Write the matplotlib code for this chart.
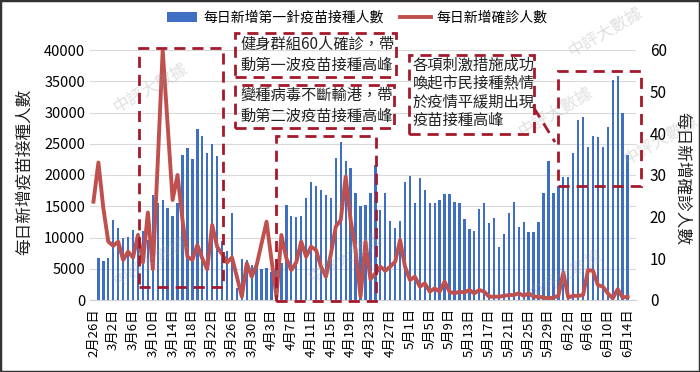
import numpy as np
import pandas as pd
import matplotlib.pyplot as plt
from matplotlib.patches import Rectangle, Patch
from matplotlib.lines import Line2D

plt.rcParams['font.family'] = ['Noto Sans CJK TC', 'DejaVu Sans']

# daily first-dose vaccinations, 2/26 - 6/14
vaccinations = [
    0, 6800, 6300, 6800, 12800, 11600, 10000, 10100, 11200, 10700,
    11100, 9600, 16800, 15500, 16000, 14800, 13500, 15500, 23200, 24400,
    22600, 27400, 26200, 23500, 25000, 23100, 9500, 7900, 13900, 2000,
    6500, 6400, 5600, 5400, 4900, 5200, 4500, 5000, 6000, 15200,
    13400, 13300, 13400, 16400, 18900, 18200, 17600, 16800, 16400, 22700,
    25300, 22300, 21100, 17200, 15100, 15200, 17100, 21600, 14400, 17100,
    12700, 11500, 12600, 18900, 19800, 15600, 19500, 17600, 15500, 15600,
    16000, 16900, 17000, 15700, 15500, 13000, 11400, 11000, 14500, 15600,
    12300, 13100, 8500, 10600, 13870, 15630, 11730, 12530, 10930, 10930,
    12530, 17070, 22290, 17070, 18240, 19730, 19630, 23470, 28800, 29230,
    24430, 26240, 26130, 24430, 27730, 35200, 35840, 29970, 23200,
]

# daily confirmed cases
cases = [
    23.6, 33, 22, 14, 13, 14, 9.6, 11.6, 10.2, 15.6,
    9, 21, 7.4, 33, 60, 42, 24, 30, 19.2, 10.4,
    9.6, 13.2, 10, 7.4, 18, 12.8, 11, 9, 10.2, 5.6,
    0.8, 8.8, 5.6, 8.4, 13.6, 18.8, 9.6, 0.8, 15.6, 10,
    7.2, 9, 14, 10.4, 12.8, 12, 8, 5.6, 11, 17.6,
    19.2, 29.6, 19.2, 12, 0.8, 14, 5, 6.4, 8, 7,
    8, 9.2, 14.4, 8, 4.8, 5.6, 3.2, 4, 2, 2.8,
    2, 4.4, 2, 1.6, 2, 1.8, 2.4, 1.6, 2.4, 2,
    0.8, 0.8, 0.8, 1, 1.2, 1.2, 1.6, 1, 1.6, 0.8,
    0.8, 0.6, 0.4, 0.6, 1, 6.6, 0.6, 1, 1, 1.2,
    7.2, 7, 3.6, 3.2, 1.6, 0.4, 2.6, 0.6, 0.8,
]

dates = pd.date_range('2021-02-26', '2021-06-14')
date_labels = [f"{d.month}月{d.day}日" for d in dates]

legend_labels = ['每日新增第一針疫苗接種人數', '每日新增確診人數']
note1 = '健身群組60人確診，帶\n動第一波疫苗接種高峰'
note2 = '變種病毒不斷輸港，帶\n動第二波疫苗接種高峰'
note3 = '各項刺激措施成功\n喚起市民接種熱情\n於疫情平緩期出現\n疫苗接種高峰'

W, H = 700, 372
def fx(px):
    return px / W
def fy(py):
    return 1 - py / H

fig = plt.figure(figsize=(7, 3.72), dpi=100)
ax = fig.add_axes([fx(90), fy(300), (636 - 90) / W, (300 - 50) / H])

x = np.arange(len(vaccinations))
ax.bar(x, vaccinations, width=0.48, color='#3f6fc2', zorder=2)
ax.set_ylim(0, 40000)
ax.set_yticks(range(0, 40001, 5000))
ax.set_xlim(-0.7, 109.7)
ax.set_xticks(x[::4])
ax.set_xticklabels(date_labels[::4], rotation=90)
ax.grid(axis='y', color='#d9d9d9', lw=0.8)
ax.set_axisbelow(True)
ax.tick_params(axis='both', length=0, labelsize=10.5)
ax.tick_params(axis='x', labelsize=9.5, pad=6)
for s in ['top', 'right', 'left']:
    ax.spines[s].set_visible(False)
ax.spines['bottom'].set_color('#d0d0d0')

ax2 = ax.twinx()
ax2.plot(x, cases, color='#c0504d', lw=2.8, zorder=3, solid_joinstyle='round')
ax2.set_ylim(0, 60)
ax2.set_yticks(range(0, 61, 10))
ax2.tick_params(axis='y', length=0, labelsize=11, pad=10)
for s in ax2.spines.values():
    s.set_visible(False)

fig.text(fx(25), fy(172), '每日新增疫苗接種人數', rotation=90, fontsize=12,
         ha='center', va='center', color='#222')
fig.text(fx(682), fy(178), '每日新增確診人數', rotation=270, fontsize=12,
         ha='center', va='center', color='#222')

handles = [Patch(facecolor='#3f6fc2'), Line2D([], [], color='#c0504d', lw=2.8)]
fig.legend(handles, legend_labels, loc='center', bbox_to_anchor=(fx(357), fy(18)),
           ncol=2, frameon=False, fontsize=10, handlelength=2.2, columnspacing=1.2,
           handletextpad=0.4)

# watermarks
for wx, wy in [(150, 88), (150, 262), (345, 258), (555, 112), (565, 275), (605, 32), (660, 140)]:
    fig.text(fx(wx), fy(wy), '中評大數據', rotation=30, fontsize=12, color='#9a9a9a',
             alpha=0.3, ha='center', va='center')

red = '#a5192c'
def box(x0, y0, x1, y1):
    fig.add_artist(Rectangle((fx(x0), fy(y1)), fx(x1) - fx(x0), fy(y0) - fy(y1),
                             transform=fig.transFigure, fill=False, ec=red, lw=2,
                             ls=(0, (4, 2.5)), zorder=5))

def seg(x0, y0, x1, y1):
    fig.add_artist(Line2D([fx(x0), fx(x1)], [fy(y0), fy(y1)], transform=fig.transFigure,
                          color=red, lw=2, ls=(0, (4, 2.5)), zorder=5))

box(139, 48, 223, 287)
box(276, 136, 376, 301)
box(558, 71, 641, 186)
box(235, 33, 396, 77)
box(235, 85, 394, 128)
box(409, 55, 534, 134)
seg(534, 108, 555, 142)

fig.text(fx(240), fy(55), note1, fontsize=11, va='center', ha='left',
         color='#222', linespacing=1.35, zorder=6)
fig.text(fx(240), fy(106), note2, fontsize=11, va='center', ha='left',
         color='#222', linespacing=1.35, zorder=6)
fig.text(fx(413), fy(93), note3, fontsize=11, va='center', ha='left',
         color='#222', linespacing=1.1, zorder=6)

fig.add_artist(Rectangle((0, 0), 1, 1, transform=fig.transFigure, fill=False,
                         ec='#333', lw=2.5))

fig.savefig('out.png', dpi=100)
